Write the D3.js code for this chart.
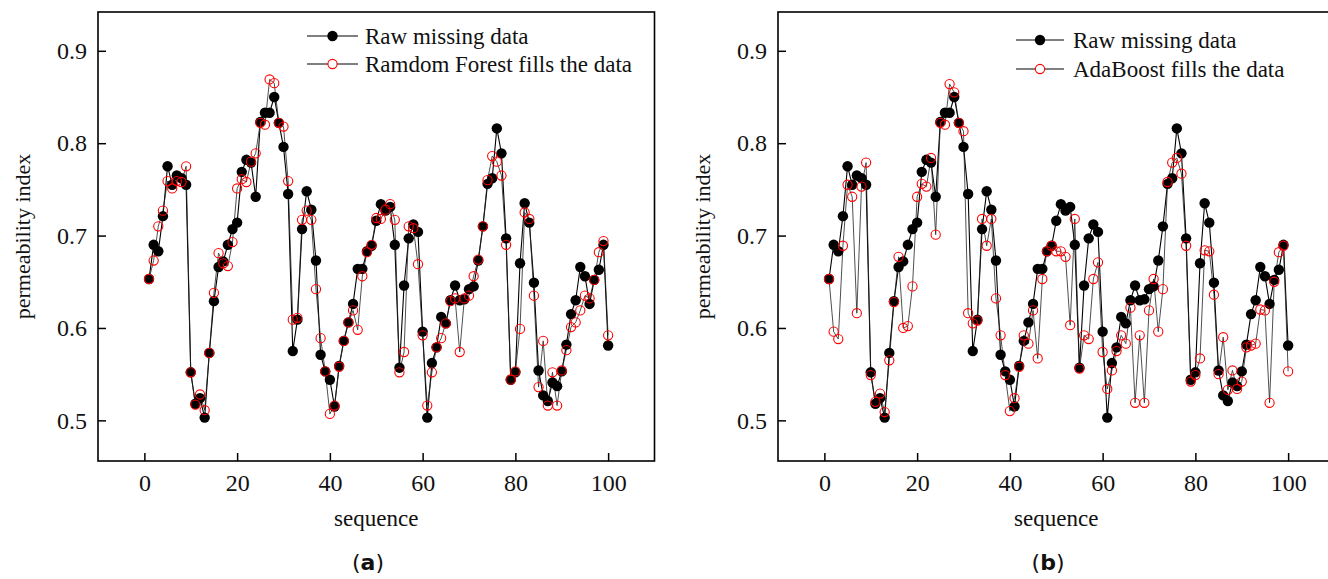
<!DOCTYPE html>
<html>
<head>
<meta charset="utf-8">
<script src="https://cdn.jsdelivr.net/npm/d3@7/dist/d3.min.js"></script>
<style>
  html, body { margin: 0; padding: 0; background: #fff; }
  svg { display: block; }
  text { font-family: "Liberation Serif", "Times New Roman", serif; fill: #111; }
</style>
</head>
<body>
<svg id="chart" width="1328" height="579"></svg>
<script>
// ---- data ----
const rawData = [
  0.653, 0.690, 0.683, 0.721, 0.775, 0.755, 0.765, 0.762, 0.755, 0.552,
  0.518, 0.524, 0.503, 0.573, 0.629, 0.666, 0.672, 0.690, 0.707, 0.714,
  0.769, 0.782, 0.779, 0.742, 0.823, 0.833, 0.833, 0.850, 0.822, 0.796,
  0.745, 0.575, 0.609, 0.707, 0.748, 0.728, 0.673, 0.571, 0.553, 0.544,
  0.515, 0.559, 0.586, 0.606, 0.626, 0.664, 0.664, 0.683, 0.689, 0.716,
  0.734, 0.727, 0.731, 0.690, 0.557, 0.646, 0.697, 0.712, 0.704, 0.596,
  0.503, 0.562, 0.579, 0.612, 0.605, 0.630, 0.646, 0.630, 0.631, 0.642,
  0.645, 0.673, 0.710, 0.756, 0.762, 0.816, 0.789, 0.697, 0.544, 0.552,
  0.670, 0.735, 0.714, 0.649, 0.554, 0.527, 0.521, 0.541, 0.537, 0.553,
  0.582, 0.615, 0.630, 0.666, 0.656, 0.626, 0.652, 0.663, 0.690, 0.581
];
const rfFill = [
  0.653, 0.673, 0.710, 0.727, 0.759, 0.751, 0.759, 0.758, 0.775, 0.552,
  0.517, 0.528, 0.511, 0.573, 0.638, 0.681, 0.670, 0.667, 0.693, 0.751,
  0.761, 0.758, 0.780, 0.789, 0.822, 0.820, 0.869, 0.865, 0.822, 0.818,
  0.759, 0.609, 0.611, 0.717, 0.727, 0.717, 0.642, 0.589, 0.553, 0.507,
  0.516, 0.558, 0.586, 0.606, 0.619, 0.598, 0.656, 0.682, 0.690, 0.719,
  0.718, 0.728, 0.734, 0.717, 0.552, 0.574, 0.710, 0.708, 0.669, 0.592,
  0.516, 0.552, 0.579, 0.589, 0.605, 0.629, 0.632, 0.574, 0.632, 0.635,
  0.656, 0.674, 0.710, 0.760, 0.786, 0.780, 0.765, 0.690, 0.544, 0.553,
  0.599, 0.725, 0.718, 0.635, 0.536, 0.586, 0.516, 0.552, 0.516, 0.554,
  0.576, 0.601, 0.606, 0.619, 0.635, 0.632, 0.652, 0.682, 0.694, 0.592
];
const adaFill = [
  0.653, 0.596, 0.588, 0.689, 0.755, 0.742, 0.616, 0.753, 0.779, 0.549,
  0.520, 0.529, 0.509, 0.565, 0.628, 0.677, 0.600, 0.602, 0.645, 0.742,
  0.756, 0.753, 0.784, 0.701, 0.822, 0.820, 0.864, 0.855, 0.822, 0.813,
  0.616, 0.605, 0.608, 0.718, 0.689, 0.718, 0.632, 0.592, 0.549, 0.510,
  0.524, 0.558, 0.592, 0.583, 0.619, 0.567, 0.653, 0.683, 0.689, 0.683,
  0.683, 0.677, 0.603, 0.718, 0.556, 0.592, 0.588, 0.653, 0.671, 0.574,
  0.534, 0.554, 0.575, 0.592, 0.583, 0.622, 0.519, 0.592, 0.519, 0.619,
  0.653, 0.596, 0.642, 0.758, 0.779, 0.784, 0.767, 0.689, 0.542, 0.549,
  0.567, 0.684, 0.683, 0.636, 0.550, 0.590, 0.533, 0.554, 0.534, 0.542,
  0.579, 0.581, 0.583, 0.620, 0.619, 0.519, 0.650, 0.682, 0.689, 0.553
];
const xTicks = [0, 20, 40, 60, 80, 100];
const yTicks = [0.5, 0.6, 0.7, 0.8, 0.9];
const rawLabel = "Raw missing data";
const panelLegends = ["Ramdom Forest fills the data", "AdaBoost fills the data"];
const panelTags = ["a", "b"];
const xTitle = "sequence";
const yTitle = "permeability index";

// ---- drawing ----
const svg = d3.select("#chart");
const FS = 23;

function drawPanel(ox, fill, legendText, legendPos, tag) {
  const left = 98 + ox, right = 654.5 + ox, top = 12, bottom = 461;
  const x = d3.scaleLinear().domain([-10, 110]).range([left, right]);
  const y = d3.scaleLinear().domain([0.456, 0.942]).range([bottom, top]);
  const g = svg.append("g");

  // frame
  g.append("rect").attr("x", left).attr("y", top)
    .attr("width", right - left).attr("height", bottom - top)
    .attr("fill", "none").attr("stroke", "#000").attr("stroke-width", 1.6);

  // axes with inward ticks
  const xa = g.append("g").attr("transform", `translate(0,${bottom})`)
    .call(d3.axisBottom(x).tickValues(xTicks).tickSizeInner(-8).tickSizeOuter(0).tickPadding(13).tickFormat(d3.format("d")));
  const ya = g.append("g").attr("transform", `translate(${left},0)`)
    .call(d3.axisLeft(y).tickValues(yTicks).tickSizeInner(-8).tickSizeOuter(0).tickPadding(11).tickFormat(d3.format(".1f")));
  [xa, ya].forEach(a => {
    a.select(".domain").remove();
    a.selectAll(".tick line").attr("stroke", "#000").attr("stroke-width", 1.5);
    a.selectAll(".tick text").attr("font-family", "Liberation Serif").attr("font-size", 24).attr("fill", "#111");
  });

  // titles
  g.append("text").attr("x", (x(0) + x(100)) / 2).attr("y", 518).attr("dy", "0.35em")
    .attr("text-anchor", "middle").attr("font-size", FS).text(xTitle);
  g.append("text").attr("transform", `translate(${22 + ox},${(top + bottom) / 2}) rotate(-90)`)
    .attr("dy", "0.35em").attr("text-anchor", "middle").attr("font-size", FS - 1).text(yTitle);
  const t = g.append("text").attr("x", 368 + ox).attr("y", 562).attr("dy", "0.35em")
    .attr("text-anchor", "middle").attr("font-size", 22)
    .style("font-family", "'DejaVu Sans', sans-serif");
  t.append("tspan").text("(");
  t.append("tspan").attr("font-weight", "bold").text(tag);
  t.append("tspan").text(")");

  const line = d3.line().x((d, i) => x(i + 1)).y(d => y(d));

  // raw series
  g.append("path").datum(rawData).attr("d", line)
    .attr("fill", "none").attr("stroke", "#000").attr("stroke-width", 1.1);
  // filled series line
  g.append("path").datum(fill).attr("d", line)
    .attr("fill", "none").attr("stroke", "#222").attr("stroke-width", 0.8);
  g.append("g").selectAll("circle").data(rawData).join("circle")
    .attr("cx", (d, i) => x(i + 1)).attr("cy", d => y(d)).attr("r", 5.2).attr("fill", "#000");
  g.append("g").selectAll("circle").data(fill).join("circle")
    .attr("cx", (d, i) => x(i + 1)).attr("cy", d => y(d)).attr("r", 4.6)
    .attr("fill", "none").attr("stroke", "#ff0000").attr("stroke-width", 1.1);

  // legend
  const [lx0, lx1, tx, r1, r2] = legendPos;
  const lg = g.append("g");
  [[r1, true, rawLabel], [r2, false, legendText]].forEach(([ry, filled, label]) => {
    lg.append("line").attr("x1", lx0).attr("x2", lx1).attr("y1", ry).attr("y2", ry)
      .attr("stroke", "#000").attr("stroke-width", 1);
    const c = lg.append("circle").attr("cx", (lx0 + lx1) / 2).attr("cy", ry);
    if (filled) c.attr("r", 5.2).attr("fill", "#000");
    else c.attr("r", 4.6).attr("fill", "#fff").attr("stroke", "#ff0000").attr("stroke-width", 1.1);
    lg.append("text").attr("x", tx).attr("y", ry).attr("dy", "0.33em")
      .attr("font-size", FS).text(label);
  });
}

drawPanel(0, rfFill, panelLegends[0], [307, 358, 365, 36, 64], panelTags[0]);
drawPanel(680, adaFill, panelLegends[1], [1016, 1064, 1073, 40, 69], panelTags[1]);
</script>
</body>
</html>
